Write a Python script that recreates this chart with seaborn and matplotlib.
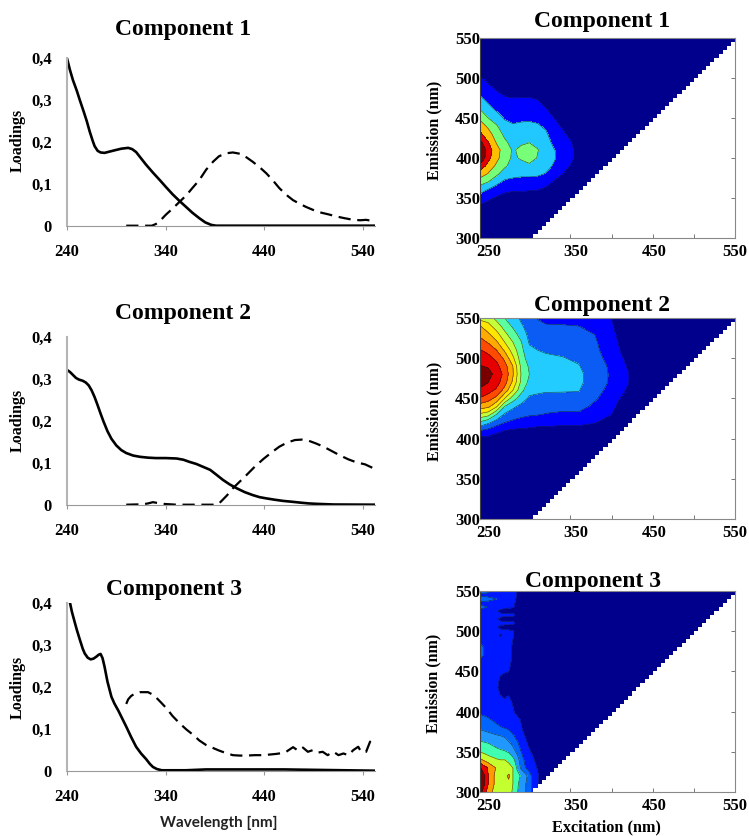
import numpy as np
import pandas as pd
import matplotlib
matplotlib.use('Agg')
import matplotlib.pyplot as plt
from matplotlib.patches import Polygon
import seaborn as sns

# ---- loadings ----
c1_solid_wl = [240, 243, 246, 250, 253, 257, 260, 263, 266, 268, 271, 274, 278, 283, 288, 295, 302, 306, 310, 315, 320,
               327, 334, 340, 347, 354, 361, 367, 374, 380, 386, 391, 450, 552]
c1_solid = [.400, .372, .348, .322, .300, .272, .250, .225, .203, .190, .179, .175, .174, .177, .180, .184, .186, .183,
            .176, .161, .146, .127, .109, .093, .075, .059, .044, .031, .018, .008, .002, 0, 0, 0]
c1_dash_wl = [300, 326, 330, 334, 340, 347, 354, 361, 367, 374, 381, 388, 394, 401, 408, 415, 422, 428, 435, 442, 449,
              455, 462, 469, 476, 482, 489, 496, 505, 513, 521, 530, 537, 543, 548, 552]
c1_dash = [0, 0, .004, .011, .026, .041, .057, .073, .090, .109, .134, .153, .166, .173, .175, .172, .163, .153, .140,
           .125, .107, .090, .074, .061, .052, .045, .038, .032, .027, .022, .018, .014, .013, .014, .012, .007]

c2_solid_wl = [240, 243, 246, 249, 252, 256, 259, 262, 265, 268, 271, 274, 277, 281, 285, 290, 295, 300, 307, 314, 322,
               330, 340, 351, 358, 364, 371, 378, 385, 391, 398, 405, 412, 420, 428, 435, 442, 450, 459, 468, 476, 485,
               493, 510, 552]
c2_solid = [.321, .316, .309, .302, .298, .295, .291, .284, .272, .256, .237, .217, .198, .175, .157, .141, .130, .123,
            .117, .114, .112, .111, .111, .110, .107, .102, .097, .090, .083, .072, .059, .048, .039, .030, .023, .018,
            .015, .012, .009, .007, .005, .003, .002, .0005, 0]
c2_dash_wl = [300, 317, 322, 327, 332, 337, 351, 391, 394, 397, 402, 408, 415, 422, 430, 439, 447, 455, 463, 471, 478,
              484, 492, 500, 508, 516, 525, 533, 542, 552]
c2_dash = [0, .001, .003, .006, .004, .002, 0, 0, .003, .010, .022, .039, .055, .071, .090, .109, .124, .138, .148,
           .154, .155, .153, .146, .138, .128, .118, .108, .101, .096, .085]

c3_solid_wl = [243, 245, 248, 250, 253, 256, 258, 261, 264, 267, 270, 272, 274, 276, 278, 281, 285, 288, 292, 296, 300,
               305, 310, 315, 320, 324, 327, 331, 336, 360, 381, 460, 552]
c3_solid = [.400, .378, .352, .335, .312, .290, .279, .269, .265, .267, .272, .276, .278, .268, .248, .212, .176, .160,
            .143, .124, .105, .080, .057, .041, .028, .016, .009, .004, .001, .001, .003, .003, 0]
c3_dash_wl = [300, 302, 305, 309, 314, 322, 327, 330, 335, 341, 347, 354, 361, 368, 374, 381, 388, 394, 401, 408, 415,
              422, 430, 439, 452, 458, 462, 469, 474, 479, 484, 489, 494, 499, 504, 510, 515, 520, 525, 530, 535, 538,
              543, 547, 551]
c3_dash = [.159, .170, .178, .184, .187, .187, .181, .175, .163, .148, .130, .113, .098, .085, .072, .061, .054, .048,
           .042, .037, .036, .036, .037, .037, .040, .042, .045, .056, .048, .055, .045, .049, .043, .045, .037, .045,
           .037, .041, .037, .049, .057, .045, .045, .069, .077]

wl_ticks = [240, 340, 440, 540]
load_ticks = [0, .1, .2, .3, .4]
load_labels = ['0', '0,1', '0,2', '0,3', '0,4']

ex1 = [240, 250, 260, 270, 280, 290, 300, 310, 320, 330, 340, 350, 360, 370, 550]
em1 = [300, 330, 340, 350, 360, 370, 380, 390, 400, 410, 420, 430, 440, 450, 460, 470, 480, 490, 500, 510, 550]
z1_by_ex = [
    [0, .3, .85, 1.55, 2.4, 3.4, 4.55, 5.6, 7.0, 7.2, 6.3, 5.2, 4.5, 3.8, 3.05, 2.45, 1.9, 1.5, 1.1, .7, 0],
    [0, .15, .6, 1.2, 1.9, 3.0, 3.9, 4.65, 5.3, 5.5, 5.0, 4.4, 3.8, 3.0, 2.4, 1.9, 1.5, 1.1, .7, .3, 0],
    [0, .05, .4, .9, 1.5, 2.3, 3.2, 3.8, 4.3, 4.4, 3.9, 3.5, 3.1, 2.5, 1.9, 1.5, 1.15, .8, .4, .1, 0],
    [0, 0, .2, .65, 1.2, 1.8, 2.5, 3.15, 3.4, 3.5, 3.15, 2.8, 2.35, 1.9, 1.55, 1.25, .9, .55, .2, 0, 0],
    [0, 0, .15, .55, 1.1, 1.7, 2.3, 2.65, 2.85, 2.9, 2.7, 2.4, 2.1, 1.75, 1.45, 1.15, .85, .5, .15, 0, 0],
    [0, 0, .15, .55, 1.1, 1.65, 2.2, 2.7, 3.1, 3.2, 2.85, 2.55, 2.15, 1.85, 1.5, 1.2, .85, .5, .15, 0, 0],
    [0, 0, .15, .55, 1.05, 1.65, 2.2, 2.8, 3.4, 3.5, 2.95, 2.65, 2.2, 1.85, 1.5, 1.2, .85, .45, .1, 0, 0],
    [0, 0, .1, .45, 1.0, 1.6, 2.15, 2.65, 2.95, 3.05, 2.75, 2.4, 2.1, 1.8, 1.45, 1.1, .75, .35, 0, 0, 0],
    [0, 0, .05, .3, .8, 1.35, 1.95, 2.3, 2.5, 2.55, 2.4, 2.15, 1.85, 1.5, 1.1, .75, .4, .1, 0, 0, 0],
    [0, 0, 0, .1, .45, .9, 1.45, 1.9, 2.1, 2.05, 1.75, 1.5, 1.25, 1.0, .65, .35, .1, 0, 0, 0, 0],
    [0, 0, 0, 0, .15, .55, 1.0, 1.4, 1.65, 1.65, 1.45, 1.15, .9, .6, .3, .1, 0, 0, 0, 0, 0],
    [0, 0, 0, 0, 0, .2, .6, .95, 1.2, 1.2, 1.05, .8, .5, .25, .05, 0, 0, 0, 0, 0, 0],
    [0, 0, 0, 0, 0, .05, .25, .5, .7, .7, .55, .35, .2, .05, 0, 0, 0, 0, 0, 0, 0],
    [0, 0, 0, 0, 0, 0, 0, .1, .2, .2, .1, 0, 0, 0, 0, 0, 0, 0, 0, 0, 0],
    [0] * 21,
]
colors1 = ['#00008c', '#0000ff', '#20c8ff', '#78ff78', '#ffbe00', '#e80000', '#800000']

ex2 = [240, 250, 260, 270, 280, 290, 300, 310, 320, 340, 360, 380, 400, 420, 440, 550]
em2 = [300, 390, 400, 410, 420, 430, 440, 450, 460, 470, 480, 490, 500, 510, 520, 530, 540, 550]
z2_by_ex = [
    [0, 0, .7, 2.0, 3.8, 5.8, 7.5, 8.9, 9.8, 10.4, 10.6, 10.05, 9.5, 9.05, 8.4, 7.7, 7.05, 5.6],
    [0, .05, .7, 1.7, 3.2, 5.4, 7.25, 8.4, 9.4, 10.0, 10.35, 9.9, 9.25, 8.75, 7.9, 7.15, 6.35, 5.5],
    [0, .05, .5, 1.25, 2.5, 4.0, 6.15, 7.7, 8.8, 9.4, 9.65, 9.3, 8.8, 8.0, 7.15, 6.35, 5.5, 4.7],
    [0, 0, .4, 1.0, 2.0, 2.85, 4.0, 6.0, 7.6, 8.4, 8.7, 8.4, 7.75, 6.85, 6.0, 5.25, 4.6, 4.0],
    [0, 0, .3, .85, 1.75, 2.5, 3.2, 4.5, 6.0, 6.8, 7.1, 7.0, 6.2, 5.55, 5.0, 4.4, 3.85, 3.55],
    [0, 0, .25, .8, 1.6, 2.25, 2.75, 3.5, 4.3, 4.8, 4.95, 4.8, 4.5, 4.3, 4.05, 3.6, 3.15, 2.8],
    [0, 0, .2, .75, 1.5, 2.1, 2.5, 2.85, 3.3, 3.75, 4.0, 3.85, 3.5, 3.2, 2.9, 2.7, 2.55, 2.4],
    [0, 0, .15, .65, 1.4, 2.05, 2.35, 2.75, 3.2, 3.6, 3.8, 3.6, 3.3, 3.0, 2.7, 2.45, 2.2, 1.95],
    [0, 0, .15, .65, 1.35, 1.95, 2.3, 2.7, 3.1, 3.45, 3.6, 3.45, 3.15, 2.9, 2.6, 2.35, 2.1, 1.7],
    [0, 0, .15, .6, 1.25, 1.85, 2.25, 2.65, 3.1, 3.35, 3.3, 3.2, 3.05, 2.8, 2.55, 2.3, 2.05, 1.75],
    [0, 0, .1, .6, 1.25, 1.85, 2.3, 2.7, 3.05, 3.2, 3.2, 3.05, 2.85, 2.65, 2.4, 2.2, 2.0, 1.75],
    [0, 0, .05, .5, 1.05, 1.4, 1.8, 2.1, 2.3, 2.5, 2.55, 2.5, 2.35, 2.2, 2.1, 1.98, 1.8, 1.6],
    [0, 0, 0, .1, .5, 1.0, 1.25, 1.5, 1.7, 1.85, 1.85, 1.8, 1.6, 1.45, 1.35, 1.2, 1.1, .95],
    [0, 0, 0, 0, 0, .05, .25, .5, .85, 1.05, 1.05, .9, .75, .55, .45, .35, .25, .15],
    [0, 0, 0, 0, 0, 0, 0, 0, .05, .1, .1, .1, .1, 0, 0, 0, 0, 0],
    [0] * 18,
]
colors2 = ['#00008c', '#0000ff', '#0a5cf5', '#22ccff', '#5cffa0', '#c4ff3c', '#ffe600',
           '#ffaa00', '#ff4a00', '#e60000', '#7a0000']

ex3 = [240, 250, 260, 265, 270, 275, 280, 285, 290, 295, 300, 305, 310, 315, 550]
em3 = [300, 310, 320, 330, 340, 350, 360, 370, 380, 390, 400, 410, 420, 430, 440, 450, 460, 470, 480, 490, 495,
       500, 505, 510, 515, 520, 525, 530, 535, 540, 545, 550]
z3_by_em = [
    [8.5, 6.5, 5.5, 5.3, 5.3, 5.3, 4.9, 4.1, 3.5, 3.05, 2.6, 1.5, 1.1, .5, 0],
    [9.3, 7.0, 5.6, 5.4, 5.6, 5.7, 5.0, 4.2, 3.6, 3.1, 2.4, 1.5, 1.1, .5, 0],
    [9.5, 7.0, 5.6, 5.4, 5.7, 6.2, 5.0, 4.3, 3.9, 3.4, 2.5, 1.5, 1.1, .6, 0],
    [8.1, 6.9, 5.9, 5.3, 5.3, 5.3, 5.0, 3.9, 2.8, 2.05, 1.55, 1.2, .95, .4, 0],
    [6.2, 5.5, 5.1, 5.0, 5.0, 4.8, 4.3, 3.5, 2.5, 1.75, 1.35, 1.1, .65, .2, 0],
    [5.0, 4.6, 4.3, 4.2, 4.1, 3.9, 3.4, 2.8, 2.0, 1.45, 1.1, .75, .4, 0, 0],
    [4.25, 4.05, 3.7, 3.5, 3.4, 3.2, 2.8, 2.2, 1.6, 1.2, .85, .5, .2, 0, 0],
    [3.5, 3.3, 3.1, 3.0, 2.9, 2.5, 2.1, 1.7, 1.3, .95, .6, .3, 0, 0, 0],
    [2.85, 2.6, 2.2, 2.05, 1.95, 1.8, 1.6, 1.35, 1.05, .75, .4, 0, 0, 0, 0],
    [2.3, 2.1, 1.8, 1.7, 1.6, 1.5, 1.35, 1.15, .95, .6, .3, 0, 0, 0, 0],
    [1.85, 1.7, 1.5, 1.4, 1.3, 1.2, 1.05, .85, .5, .2, 0, 0, 0, 0, 0],
    [1.6, 1.5, 1.3, 1.2, 1.15, 1.1, .98, .75, .3, 0, 0, 0, 0, 0, 0],
    [1.5, 1.4, 1.2, 1.0, .9, 1.0, .95, .7, .3, 0, 0, 0, 0, 0, 0],
    [1.5, 1.4, 1.1, .8, .7, .8, .9, .6, .3, 0, 0, 0, 0, 0, 0],
    [1.5, 1.4, 1.2, .9, .8, .8, .85, .6, .3, 0, 0, 0, 0, 0, 0],
    [1.5, 1.4, 1.3, 1.1, 1.05, 1.0, .9, .6, .3, 0, 0, 0, 0, 0, 0],
    [1.5, 1.4, 1.3, 1.2, 1.15, 1.05, .95, .7, .3, 0, 0, 0, 0, 0, 0],
    [2.4, 1.5, 1.3, 1.2, 1.2, 1.1, .95, .7, .3, 0, 0, 0, 0, 0, 0],
    [2.4, 1.5, 1.3, 1.2, 1.2, 1.1, .95, .7, .3, 0, 0, 0, 0, 0, 0],
    [1.5, 1.4, 1.2, 1.2, 1.2, 1.1, 1.0, .8, .3, 0, 0, 0, 0, 0, 0],
    [1.5, 1.4, 1.2, .9, 1.2, 1.1, 1.05, .8, .3, 0, 0, 0, 0, 0, 0],
    [1.5, 1.4, 1.2, 1.2, 1.2, 1.1, 1.05, .85, .3, 0, 0, 0, 0, 0, 0],
    [1.5, 1.4, 1.05, .8, .75, .75, .8, .75, .3, 0, 0, 0, 0, 0, 0],
    [1.5, 1.4, 1.2, 1.2, 1.2, 1.2, 1.1, .85, .3, 0, 0, 0, 0, 0, 0],
    [1.5, 1.4, 1.05, .8, .7, .7, .8, .7, .3, 0, 0, 0, 0, 0, 0],
    [1.5, 1.4, 1.2, 1.2, 1.2, 1.2, 1.1, .85, .3, 0, 0, 0, 0, 0, 0],
    [1.5, 1.4, 1.1, .8, .7, .7, .8, .7, .3, 0, 0, 0, 0, 0, 0],
    [2.6, 1.9, 1.4, 1.3, 1.2, 1.1, 1.05, .8, .3, 0, 0, 0, 0, 0, 0],
    [1.6, 1.4, 1.3, 1.2, 1.2, 1.2, 1.1, .9, .3, 0, 0, 0, 0, 0, 0],
    [3.0, 2.6, 2.0, 1.4, 1.2, 1.2, 1.1, .95, .3, 0, 0, 0, 0, 0, 0],
    [1.6, 1.4, 1.3, 1.2, 1.2, 1.2, 1.2, 1.0, .5, 0, 0, 0, 0, 0, 0],
    [3.0, 2.5, 1.5, 1.3, 1.3, 1.2, 1.1, .95, .3, 0, 0, 0, 0, 0, 0],
]
colors3 = ['#00008c', '#0018ff', '#0064ff', '#2098ff', '#40ffb0', '#c4ff30', '#ff9c00', '#e80000', '#800000']

em_ticks = [300, 350, 400, 450, 500, 550]
ex_label_pos = [251, 356, 452, 550]
ex_labels = ['250', '350', '450', '550']
ex_minor = [350, 400, 450, 500]

W, H = 749, 836
sns.set_theme(style='white')
plt.rcParams['font.family'] = ['Liberation Serif', 'DejaVu Serif']
plt.rcParams['font.weight'] = 'bold'

fig = plt.figure(figsize=(W / 100, H / 100), dpi=100)


def axes_px(x0, x1, ytop, ybot):
    return fig.add_axes([x0 / W, 1 - ybot / H, (x1 - x0) / W, (ybot - ytop) / H])


def text_px(x, y, s, **kw):
    fig.text(x / W, 1 - y / H, s, ha='center', va='center', **kw)


def draw_loadings(ax, wl1, y1, wl2, y2):
    # solid = emission loadings, dashed = excitation
    sns.lineplot(x=wl1, y=y1, color='black', linewidth=1.9, errorbar=None, ax=ax)
    sns.lineplot(x=wl2, y=y2, color='black', linewidth=1.6, linestyle=(0, (5.5, 3)), errorbar=None, ax=ax)
    ax.set_xlim(240, 552)
    ax.set_ylim(0, .4)
    ax.set_xticks(wl_ticks)
    ax.set_yticks(load_ticks)
    ax.set_yticklabels(load_labels)
    ax.tick_params(axis='x', bottom=True, length=3, width=.8, color='#999999', pad=10, labelsize=12, labelcolor='black')
    ax.tick_params(axis='y', left=False, pad=5, labelsize=12, labelcolor='black')
    ax.spines['top'].set_visible(False)
    ax.spines['right'].set_visible(False)
    ax.spines['left'].set_color('#b5b5b5')
    ax.spines['left'].set_linewidth(1.5)
    ax.spines['bottom'].set_color('#999999')
    ax.spines['bottom'].set_linewidth(.8)
    ax.patch.set_alpha(0)
    ax.set_xlabel('')
    ax.set_ylabel('')
    for lab in ax.get_xticklabels() + ax.get_yticklabels():
        lab.set_fontweight('bold')


def draw_eem(ax, ex, em, z, colors):
    z = np.asarray(z)
    levels = [-1] + list(range(1, len(colors))) + [len(colors) + 2]
    cs = ax.contourf(ex, em, z, levels=levels, colors=colors)
    lines = ax.contour(ex, em, z, levels=list(range(1, len(colors))), colors='#1a1a1a', linewidths=.45, alpha=.75)
    # only em >= ex is measured, with a stepped edge like the original grid
    steps = np.arange(300, 550, 5)
    verts = [(240, 550), (240, 300)]
    for s in steps:
        verts += [(s, s), (s + 5, s)]
    verts += [(550, 550)]
    clip = Polygon(verts, closed=True, transform=ax.transData)
    cs.set_clip_path(clip)
    lines.set_clip_path(clip)
    ax.set_xlim(240, 550)
    ax.set_ylim(300, 550)
    ax.set_xticks(ex_label_pos)
    ax.set_xticklabels(ex_labels)
    ax.set_xticks(ex_minor, minor=True)
    ax.set_yticks(em_ticks)
    ax.tick_params(axis='x', which='major', bottom=False, pad=-2, labelsize=12, labelcolor='black')
    ax.tick_params(axis='x', which='minor', bottom=True, direction='in', length=3, width=.7, color='#777777')
    ax.tick_params(axis='y', left=False, right=True, direction='in', length=3, width=.7, color='#777777',
                   pad=0, labelsize=12, labelcolor='black')
    for side in ['top', 'right', 'bottom']:
        ax.spines[side].set_visible(True)
        ax.spines[side].set_color('#888888')
        ax.spines[side].set_linewidth(.8)
    ax.spines['left'].set_visible(True)
    ax.spines['left'].set_color('#444444')
    ax.spines['left'].set_linewidth(.8)
    for lab in ax.get_xticklabels() + ax.get_yticklabels():
        lab.set_fontweight('bold')


ax = axes_px(67, 375, 58.3, 225.7)
draw_loadings(ax, c1_solid_wl, c1_solid, c1_dash_wl, c1_dash)
ax = axes_px(67, 375, 336.7, 504.7)
draw_loadings(ax, c2_solid_wl, c2_solid, c2_dash_wl, c2_dash)
ax = axes_px(67, 375, 602.7, 770.7)
draw_loadings(ax, c3_solid_wl, c3_solid, c3_dash_wl, c3_dash)

ax = axes_px(480, 735, 38, 238)
draw_eem(ax, ex1, em1, np.array(z1_by_ex).T, colors1)
ax = axes_px(480, 735, 318, 519)
draw_eem(ax, ex2, em2, np.array(z2_by_ex).T, colors2)
ax = axes_px(480, 735, 591, 792)
draw_eem(ax, ex3, em3, z3_by_em, colors3)

# titles and axis names are placed by hand, the panels were pasted together in the original
for x, y, s in [(183, 29, 'Component 1'), (183, 313, 'Component 2'), (174, 590, 'Component 3'),
                (602, 21, 'Component 1'), (602, 305, 'Component 2'), (593, 582, 'Component 3')]:
    text_px(x, y, s, fontsize=17, fontweight='bold', color='black')
for y in [140, 420, 687]:
    text_px(18, y, 'Loadings', fontsize=11.5, fontweight='bold', rotation=90, color='black')
for x, y in [(434, 130), (434, 411), (433, 683)]:
    text_px(x, y, 'Emission (nm)', fontsize=11.5, fontweight='bold', rotation=90, color='black')
text_px(606, 827, 'Excitation (nm)', fontsize=11.7, fontweight='bold', color='black')
text_px(219, 823, 'Wavelength [nm]', fontsize=11, fontweight='bold', family='Lato', color='#222222')

fig.savefig('out.png', dpi=100)
